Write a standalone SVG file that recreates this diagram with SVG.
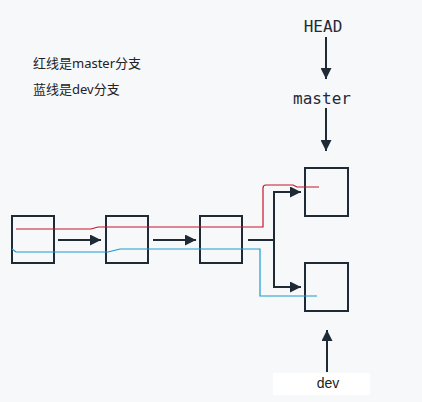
<svg xmlns="http://www.w3.org/2000/svg" width="422" height="402" viewBox="0 0 422 402">
<style>
.box{fill:none;stroke:#1f2a37;stroke-width:2}
.ln{fill:none;stroke:#1f2a37;stroke-width:2}
.mono{font-family:"DejaVu Sans Mono","Liberation Mono",monospace;font-size:16px;fill:#1f2a37;text-anchor:middle}
.cn{font-family:"Noto Sans","Noto Sans CJK SC",sans-serif;font-size:13px;fill:#222}
</style>
<defs>
<marker id="ah" viewBox="0 0 10 10" refX="10" refY="5" markerWidth="5.5" markerHeight="5.5" orient="auto" markerUnits="strokeWidth"><path d="M0,0L10,5L0,10z" fill="#1f2a37"/></marker>
</defs>
<rect width="422" height="402" fill="#f7f8fa"/>
<g id="legend">
<text class="cn" x="33" y="68">红线是master分支</text>
<text class="cn" x="33" y="94">蓝线是dev分支</text>
</g>
<g id="c1"><rect class="box" x="12" y="216" width="42" height="47"/></g>
<g id="c2"><rect class="box" x="106" y="216" width="42" height="47"/></g>
<g id="c3"><rect class="box" x="200" y="216" width="42" height="47"/></g>
<g id="c4"><rect class="box" x="305" y="168" width="43" height="48"/></g>
<g id="c5"><rect class="box" x="305" y="263" width="43" height="48"/></g>
<g id="head"><text class="mono" x="323" y="32">HEAD</text></g>
<g id="master"><text class="mono" x="322" y="104">master</text></g>
<g id="dev"><rect x="273" y="373" width="97" height="22" fill="#ffffff"/><text x="328" y="388" font-family="Liberation Sans,Arial,sans-serif" font-size="14" fill="#222" text-anchor="middle">dev</text></g>
<g id="connectors">
<line class="ln" x1="58" y1="240" x2="101" y2="240" marker-end="url(#ah)"/>
<line class="ln" x1="153" y1="240" x2="196" y2="240" marker-end="url(#ah)"/>
<polyline class="ln" points="248,240 274,240"/>
<polyline class="ln" points="301,192 274,192 274,287 301,287" marker-end="url(#ah)" marker-start="none"/>
<line class="ln" x1="274" y1="192" x2="301" y2="192" marker-end="url(#ah)"/>
<line class="ln" x1="326" y1="37" x2="326" y2="79" marker-end="url(#ah)"/>
<line class="ln" x1="326" y1="108" x2="326" y2="151" marker-end="url(#ah)"/>
<line class="ln" x1="327" y1="372" x2="327" y2="330" marker-end="url(#ah)"/>
<path d="M16,229H91L98,227H263V188Q263,185 266,185H293L297,187H319" fill="none" stroke="#c8142d" stroke-width="1.2"/>
<path d="M12,249L16,252H108L120,249H260V296H317" fill="none" stroke="#1a9cd0" stroke-width="1.2"/>
</g>
</svg>
